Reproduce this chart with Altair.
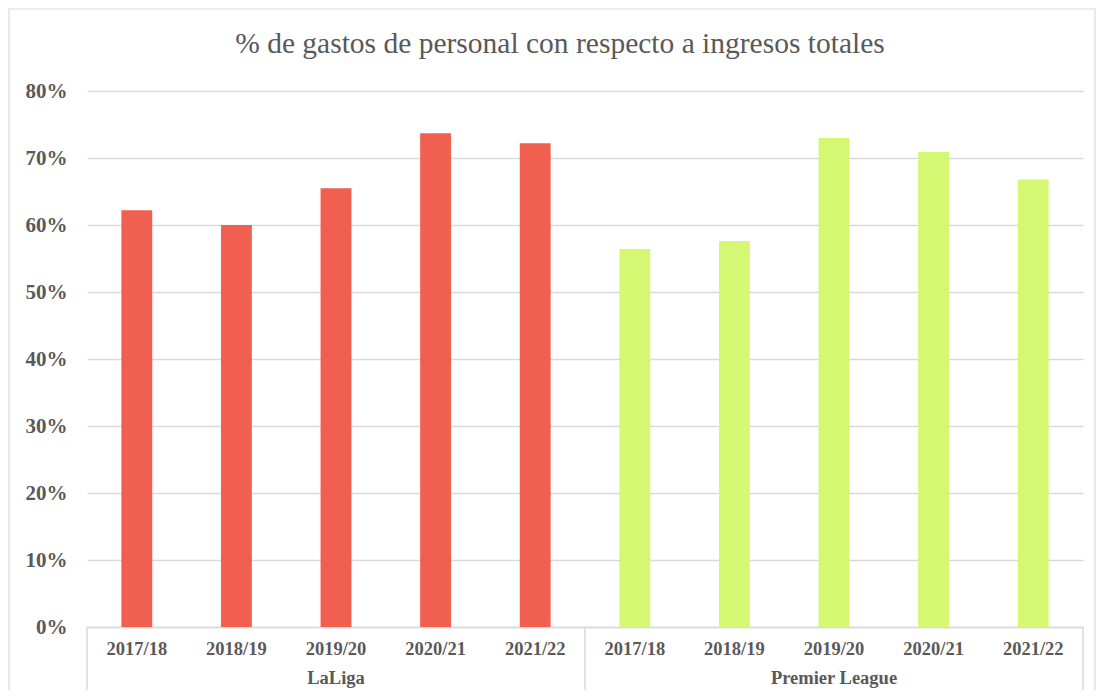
import altair as alt
import pandas as pd

title_text = "% de gastos de personal con respecto a ingresos totales"
seasons = ["2017/18", "2018/19", "2019/20", "2020/21", "2021/22"]
leagues = ["LaLiga", "Premier League"]
laliga = [0.622, 0.600, 0.655, 0.737, 0.722]
premier = [0.564, 0.576, 0.730, 0.709, 0.668]
colors = ["#F15F51", "#D4F872"]
y_ticks = [0, 0.1, 0.2, 0.3, 0.4, 0.5, 0.6, 0.7, 0.8]

rows = []
for lg, vals in zip(leagues, [laliga, premier]):
    for s, v in zip(seasons, vals):
        rows.append({"league": lg, "season": s, "key": lg + "|" + s, "value": v})
df = pd.DataFrame(rows)
keys = list(df["key"])

W, H = 996, 536
FONT = "Liberation Serif, Times New Roman, DejaVu Serif, serif"
GRAY = "#595959"
LINE = "#D9D9D9"
P_IN, P_OUT = 0.69, 0.345
STEP = W / (len(keys) - P_IN + 2 * P_OUT)
GAP = P_IN * STEP / 2

xscale = alt.Scale(domain=keys, paddingInner=P_IN, paddingOuter=P_OUT)

bars = alt.Chart(df).mark_bar().encode(
    x=alt.X("key:N", scale=xscale, sort=keys, title=None,
            axis=alt.Axis(labelExpr="split(datum.label, '|')[1]", labelAngle=0,
                          labelFont=FONT, labelFontSize=18.5, labelFontWeight="bold",
                          labelColor=GRAY, labelPadding=12, ticks=False,
                          domainColor=LINE, domainWidth=1.5, grid=False)),
    y=alt.Y("value:Q", scale=alt.Scale(domain=[0, 0.8], nice=False), title=None,
            axis=alt.Axis(values=y_ticks, format=".0%", labelFont=FONT, labelFontSize=21,
                          labelFontWeight="bold", labelColor=GRAY, labelPadding=20,
                          ticks=False, domain=False, gridColor=LINE, gridWidth=1.5)),
    color=alt.Color("league:N", scale=alt.Scale(domain=leagues, range=colors), legend=None),
)

# group labels under the season labels
grp = pd.DataFrame({"league": leagues, "key": [keys[2], keys[7]]})
group_text = alt.Chart(grp).mark_text(
    font=FONT, fontSize=18.5, fontWeight="bold", color=GRAY, baseline="middle"
).encode(
    x=alt.X("key:N", scale=xscale, sort=keys),
    y=alt.value(H + 51),
    text="league:N",
)

# separators of the multi-level category axis, at the category cell edges
sep_rules = []
for k, bp, off in [(keys[0], 0, -GAP), (keys[5], 0, -GAP), (keys[9], 1, GAP)]:
    sep_rules.append(
        alt.Chart(pd.DataFrame({"key": [k]})).mark_rule(
            color=LINE, strokeWidth=1.5, xOffset=off
        ).encode(
            x=alt.X("key:N", scale=xscale, sort=keys, bandPosition=bp),
            y=alt.value(H), y2=alt.value(H + 70),
        )
    )

title = alt.Chart(pd.DataFrame({"t": [title_text]})).mark_text(
    font=FONT, fontSize=29.5, color=GRAY, baseline="alphabetic", align="center"
).encode(x=alt.value(473), y=alt.value(-38), text="t:N")

border = alt.Chart(pd.DataFrame({"a": [0]})).mark_rect(
    fill=None, stroke=LINE, strokeWidth=1.2
).encode(x=alt.value(-78), x2=alt.value(1008), y=alt.value(-82), y2=alt.value(H + 90))

chart = alt.layer(border, bars, group_text, *sep_rules, title).properties(
    width=W, height=H,
    background="white",
    autosize=alt.AutoSizeParams(type="none"),
    padding={"left": 79, "top": 83, "right": 14, "bottom": 63},
).configure_view(stroke=None)

chart.save("out.html", embed_options={"renderer": "svg", "actions": False})
